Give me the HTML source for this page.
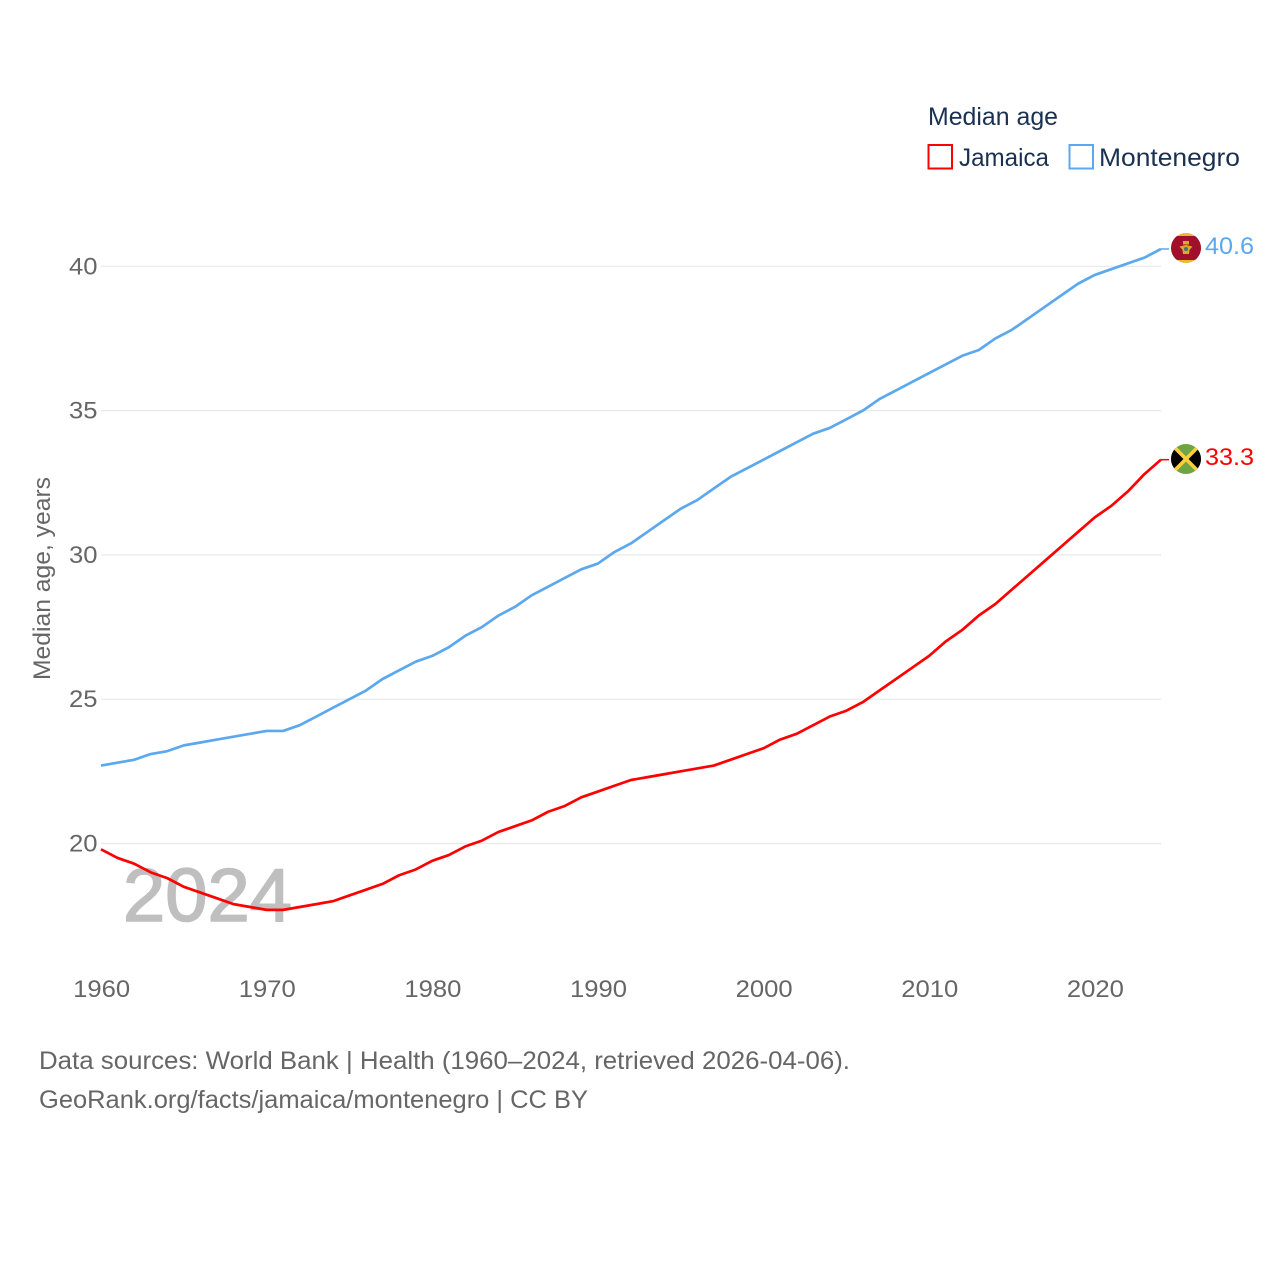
<!DOCTYPE html>
<html lang="en">
<head>
<meta charset="utf-8">
<title>Median age: Jamaica and Montenegro</title>
<style>
html,body{margin:0;padding:0;background:#fff;width:1280px;height:1280px;overflow:hidden}
svg{display:block}
text{font-family:"Liberation Sans",sans-serif}
</style>
</head>
<body>
<svg id="chart" xmlns="http://www.w3.org/2000/svg" width="1280" height="1280" viewBox="0 0 1280 1280">
  <defs>
    <clipPath id="flag-clip-me"><circle cx="1186" cy="248" r="15"/></clipPath>
    <clipPath id="flag-clip-jm"><circle cx="1186" cy="459" r="15"/></clipPath>
  </defs>
  <g id="grid"></g>
  <text x="123" y="921" font-size="75" fill="#bfbfbf" stroke="#bfbfbf" stroke-width="1.6" textLength="169" lengthAdjust="spacingAndGlyphs">2024</text>
  <g id="yticks"></g>
  <g id="xticks"></g>
  <text transform="translate(50,680) rotate(-90)" font-size="24" fill="#666" textLength="203" lengthAdjust="spacingAndGlyphs">Median age, years</text>
  <g id="series"></g>

  <g>
    <g clip-path="url(#flag-clip-me)">
      <rect x="1171" y="233" width="30" height="30" fill="#e8b92f"/>
      <rect x="1171" y="236" width="30" height="24" fill="#a00f2b"/>
      <rect x="1183" y="241" width="6" height="3.5" fill="#d9a92e"/>
      <path d="M1179.5 246.5 L1186 245 L1192.5 246.5 L1189.5 250 L1189 254 L1183 254 L1182.5 250 Z" fill="#d9a92e"/>
      <circle cx="1186" cy="249" r="2" fill="#48707a"/>
    </g>
  </g>
  <g>
    <g clip-path="url(#flag-clip-jm)">
      <rect x="1171" y="444" width="30" height="30" fill="#6ea544"/>
      <path d="M1171 444 L1186 459 L1171 474 Z" fill="#000"/>
      <path d="M1201 444 L1186 459 L1201 474 Z" fill="#000"/>
      <path d="M1171 444 L1201 474 M1201 444 L1171 474" stroke="#fdd03a" stroke-width="3.6"/>
    </g>
  </g>
  <text x="1205" y="254" font-size="24" fill="#5ca8ee" textLength="49" lengthAdjust="spacingAndGlyphs">40.6</text>
  <text x="1205" y="465" font-size="24" fill="#ff0000" textLength="49" lengthAdjust="spacingAndGlyphs">33.3</text>

  <g>
    <text x="928" y="125" font-size="25" fill="#1a3050" textLength="130" lengthAdjust="spacingAndGlyphs">Median age</text>
    <g>
      <rect x="928.5" y="145" width="23.5" height="23.5" fill="#fff" stroke="#ff0000" stroke-width="2"/>
      <text x="959" y="166" font-size="25" fill="#1a3050" textLength="90" lengthAdjust="spacingAndGlyphs">Jamaica</text>
    </g>
    <g>
      <rect x="1069.5" y="145" width="23.5" height="23.5" fill="#fff" stroke="#5ca8ee" stroke-width="2"/>
      <text x="1099" y="166" font-size="25" fill="#1a3050" textLength="141" lengthAdjust="spacingAndGlyphs">Montenegro</text>
    </g>
  </g>

  <text x="39" y="1069" font-size="25" fill="#666" textLength="811" lengthAdjust="spacingAndGlyphs">Data sources: World Bank | Health (1960–2024, retrieved 2026-04-06).</text>
  <text x="39" y="1108" font-size="25" fill="#666" textLength="549" lengthAdjust="spacingAndGlyphs">GeoRank.org/facts/jamaica/montenegro | CC BY</text>
</svg>
<script>
const startYear = 1960;
const yTickValues = [20, 25, 30, 35, 40];
const xTickValues = [1960, 1970, 1980, 1990, 2000, 2010, 2020];
const jamaicaValues = [
  19.8, 19.5, 19.3, 19.0, 18.8, 18.5, 18.3, 18.1, 17.9, 17.8,
  17.7, 17.7, 17.8, 17.9, 18.0, 18.2, 18.4, 18.6, 18.9, 19.1,
  19.4, 19.6, 19.9, 20.1, 20.4, 20.6, 20.8, 21.1, 21.3, 21.6,
  21.8, 22.0, 22.2, 22.3, 22.4, 22.5, 22.6, 22.7, 22.9, 23.1,
  23.3, 23.6, 23.8, 24.1, 24.4, 24.6, 24.9, 25.3, 25.7, 26.1,
  26.5, 27.0, 27.4, 27.9, 28.3, 28.8, 29.3, 29.8, 30.3, 30.8,
  31.3, 31.7, 32.2, 32.8, 33.3
];
const montenegroValues = [
  22.7, 22.8, 22.9, 23.1, 23.2, 23.4, 23.5, 23.6, 23.7, 23.8,
  23.9, 23.9, 24.1, 24.4, 24.7, 25.0, 25.3, 25.7, 26.0, 26.3,
  26.5, 26.8, 27.2, 27.5, 27.9, 28.2, 28.6, 28.9, 29.2, 29.5,
  29.7, 30.1, 30.4, 30.8, 31.2, 31.6, 31.9, 32.3, 32.7, 33.0,
  33.3, 33.6, 33.9, 34.2, 34.4, 34.7, 35.0, 35.4, 35.7, 36.0,
  36.3, 36.6, 36.9, 37.1, 37.5, 37.8, 38.2, 38.6, 39.0, 39.4,
  39.7, 39.9, 40.1, 40.3, 40.6
];

const NS = 'http://www.w3.org/2000/svg';
function xScale(year) { return 101 + (year - 1960) * 16.5625; }
function yScale(v) { return 843.5 - (v - 20) * (843.5 - 266.3) / 20; }

const gridGroup = document.getElementById('grid');
const yTickGroup = document.getElementById('yticks');
const xTickGroup = document.getElementById('xticks');
const seriesGroup = document.getElementById('series');

yTickValues.forEach(function (v) {
  const line = document.createElementNS(NS, 'line');
  
  
  line.setAttribute('x1', xScale(1960));
  line.setAttribute('x2', xScale(2024));
  line.setAttribute('y1', yScale(v));
  line.setAttribute('y2', yScale(v));
  line.setAttribute('stroke', '#e9e9e9');
  line.setAttribute('stroke-width', '1.2');
  gridGroup.appendChild(line);

  const label = document.createElementNS(NS, 'text');
  
  
  label.setAttribute('x', 69);
  label.setAttribute('y', yScale(v) + 8);
  label.setAttribute('font-size', '24');
  label.setAttribute('fill', '#666');
  label.setAttribute('textLength', '28.5');
  label.setAttribute('lengthAdjust', 'spacingAndGlyphs');
  label.textContent = String(v);
  yTickGroup.appendChild(label);
});

xTickValues.forEach(function (year) {
  const label = document.createElementNS(NS, 'text');
  
  
  label.setAttribute('x', xScale(year) - 27.8);
  label.setAttribute('y', 997);
  label.setAttribute('font-size', '24');
  label.setAttribute('fill', '#666');
  label.setAttribute('textLength', '57');
  label.setAttribute('lengthAdjust', 'spacingAndGlyphs');
  label.textContent = String(year);
  xTickGroup.appendChild(label);
});

function linePoints(values) {
  return values.map(function (v, i) {
    return xScale(startYear + i).toFixed(2) + ',' + yScale(v).toFixed(2);
  }).join(' ');
}

const jamaicaLast = jamaicaValues[jamaicaValues.length - 1];
const montenegroLast = montenegroValues[montenegroValues.length - 1];
const lastX = xScale(startYear + jamaicaValues.length - 1);

const jamaicaLine = document.createElementNS(NS, 'polyline');


jamaicaLine.setAttribute('points', linePoints(jamaicaValues));
jamaicaLine.setAttribute('fill', 'none');
jamaicaLine.setAttribute('stroke', '#ff0000');
jamaicaLine.setAttribute('stroke-width', '2.7');
jamaicaLine.setAttribute('stroke-linejoin', 'round');
seriesGroup.appendChild(jamaicaLine);

const jamaicaConnector = document.createElementNS(NS, 'line');


jamaicaConnector.setAttribute('x1', lastX);
jamaicaConnector.setAttribute('x2', 1169);
jamaicaConnector.setAttribute('y1', yScale(jamaicaLast));
jamaicaConnector.setAttribute('y2', yScale(jamaicaLast));
jamaicaConnector.setAttribute('stroke', '#ff0000');
jamaicaConnector.setAttribute('stroke-width', '1.5');
seriesGroup.appendChild(jamaicaConnector);

const montenegroLine = document.createElementNS(NS, 'polyline');


montenegroLine.setAttribute('points', linePoints(montenegroValues));
montenegroLine.setAttribute('fill', 'none');
montenegroLine.setAttribute('stroke', '#5ca8ee');
montenegroLine.setAttribute('stroke-width', '2.7');
montenegroLine.setAttribute('stroke-linejoin', 'round');
seriesGroup.appendChild(montenegroLine);

const montenegroConnector = document.createElementNS(NS, 'line');


montenegroConnector.setAttribute('x1', lastX);
montenegroConnector.setAttribute('x2', 1169);
montenegroConnector.setAttribute('y1', yScale(montenegroLast));
montenegroConnector.setAttribute('y2', yScale(montenegroLast));
montenegroConnector.setAttribute('stroke', '#5ca8ee');
montenegroConnector.setAttribute('stroke-width', '1.5');
seriesGroup.appendChild(montenegroConnector);
</script>
</body>
</html>
